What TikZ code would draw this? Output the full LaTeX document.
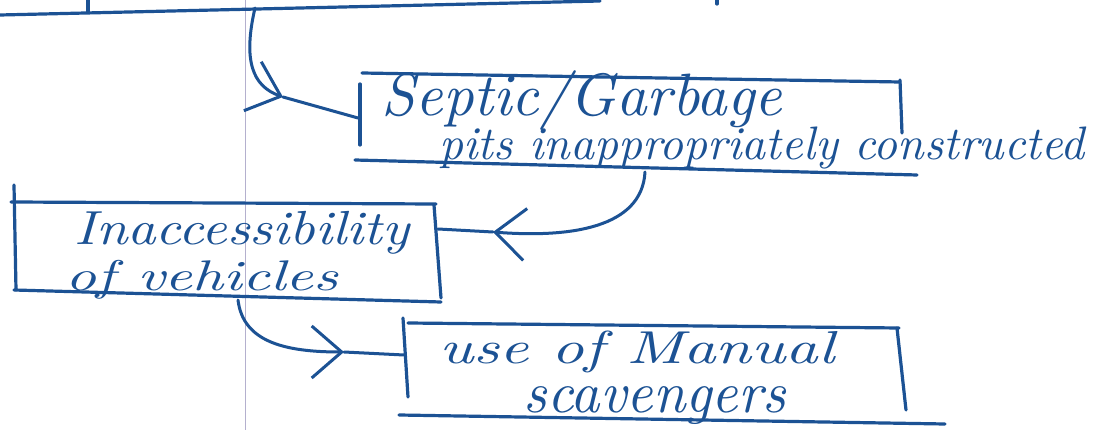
\documentclass[tikz,border=0pt]{standalone}
\usetikzlibrary{arrows.meta}
\definecolor{ink}{RGB}{28,82,148}
\definecolor{marginline}{RGB}{180,176,206}
\begin{document}
\begin{tikzpicture}[x=1pt,y=-1pt,
  boxline/.style={draw=ink,line width=3.2pt,line cap=round},
  conn/.style={draw=ink,line width=3pt,line cap=round},
  tipped/.style={-{Straight Barb[length=30pt,width=52pt]}},
  lbl/.style={text=ink,inner sep=0pt,font=\itshape}]
\useasboundingbox (0,0) rectangle (1096,430);
\fill[white] (0,0) rectangle (1096,430);
% notebook margin line
\draw[marginline,line width=1pt] (245,0) -- (245,430);

% partial box at the top
\draw[boxline] (0,15) -- (600,1);
\draw[boxline] (88,0) -- (88,12);
\draw[boxline] (717,0) -- (717,4);

% Septic box
\draw[boxline] (362,73) -- (900,82);
\draw[boxline] (900,80) -- (902,133);
\draw[boxline] (360,84) -- (360,145);
\draw[boxline] (355,160) -- (917,175);
\node[lbl] (septicA) at (582,101) {\resizebox{400pt}{!}{Septic/Garbage}};
\node[lbl] (septicB) at (762,148) {\resizebox{645pt}{!}{pits inappropriately constructed}};

% Inaccessibility box
\draw[boxline] (11,202) -- (436,204);
\draw[boxline] (14,185) -- (16,290);
\draw[boxline] (434,205) -- (441,298);
\draw[boxline] (14,290) -- (441,302);
\node[lbl] (inaccA) at (242,233) {\resizebox*{335pt}{43pt}{Inaccessibility}};
\node[lbl] (inaccB) at (202,280) {\resizebox*{272pt}{39pt}{of vehicles}};

% Manual scavengers box
\draw[boxline] (408,323) -- (899,328);
\draw[boxline] (897,328) -- (906,410);
\draw[boxline] (403,318) -- (408,397);
\draw[boxline] (399,415) -- (945,424);
\node[lbl] (manualA) at (637,352) {\resizebox*{395pt}{42pt}{use of Manual}};
\node[lbl] (manualB) at (655,406) {\resizebox*{262pt}{38pt}{scavengers}};

% connector points
\coordinate (top0) at (255,8);
\coordinate (t1) at (283,97);
\coordinate (septicW) at (358,118);
\coordinate (septicS) at (645,172);
\coordinate (t2) at (493,232);
\coordinate (inaccE) at (438,229);
\coordinate (inaccS) at (238,300);
\coordinate (t3) at (344,352);
\coordinate (manualW) at (404,355);

% connectors
\draw[conn,tipped] (top0) .. controls (243,60) and (252,86) .. (t1);
\draw[conn] (t1) -- (septicW);
\draw[conn,tipped] (septicS) .. controls (642,228) and (570,238) .. (t2);
\draw[conn] (t2) -- (inaccE);
\draw[conn,tipped] (inaccS) .. controls (243,342) and (285,352) .. (t3);
\draw[conn] (t3) -- (manualW);
\end{tikzpicture}
\end{document}
